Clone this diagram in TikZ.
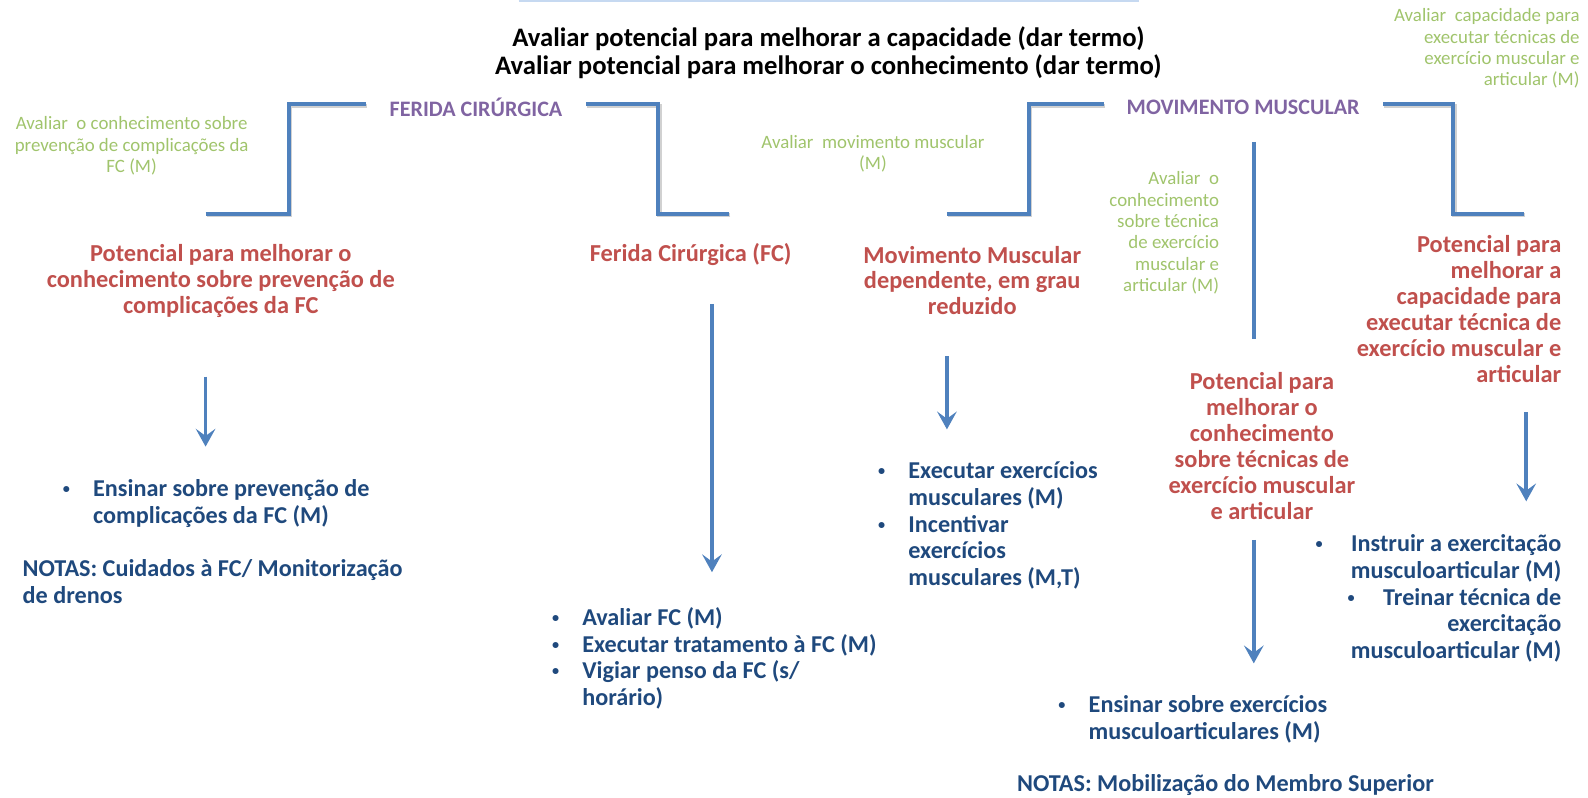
\documentclass[tikz,border=0pt]{standalone}
\usepackage{fontspec}
\setmainfont{Carlito}
\usetikzlibrary{arrows.meta}

\definecolor{linkblue}{HTML}{4F81BD}
\definecolor{topblue}{HTML}{C6D9F1}
\definecolor{headpurple}{HTML}{8064A2}
\definecolor{diagred}{HTML}{C0504D}
\definecolor{evalgreen}{RGB}{160,196,108}
\definecolor{actblue}{HTML}{1F497D}

\newlength{\bw}\setlength{\bw}{18pt}
\newcommand{\smallbul}{\raisebox{0.12em}{\fontsize{8}{8}\selectfont\textbullet}}
\newcommand{\itm}{\makebox[\bw][l]{\hspace{1pt}\smallbul}}
\newcommand{\cnt}{\hspace*{\bw}}

\tikzset{
  toptitle/.style={inner sep=0pt, align=center, font=\fontsize{15}{16}\selectfont\bfseries},
  heading/.style={inner sep=0pt, text=headpurple, font=\fontsize{12.4}{14}\selectfont\bfseries},
  evalnote/.style={inner sep=0pt, text=evalgreen, font=\fontsize{10.6}{12}\selectfont},
  diagnosis/.style={inner sep=0pt, text=diagred, font=\fontsize{13.7}{14.6}\selectfont\bfseries},
  actions/.style={inner sep=0pt, text=actblue, align=left, font=\fontsize{13.6}{15}\selectfont\bfseries},
  bracket/.style={draw=linkblue, line width=2.4pt,
    preaction={draw=black!18, line width=2.4pt, transform canvas={shift={(0.6pt,-0.9pt)}}}},
  arr/.style={draw=linkblue, line width=2pt, -{Stealth[length=10pt,width=11pt,inset=4pt]}}
}

\begin{document}
\begin{tikzpicture}[x=0.02cm, y=-0.02cm]
\useasboundingbox (0,0) rectangle (1568,787);

% top rule and title
\coordinate (topl) at (512,1);
\coordinate (topr) at (1125,1);
\draw[topblue, line width=1.2pt] (topl) -- (topr);
\node[toptitle] (title) at (818,52) {Avaliar potencial para melhorar a capacidade (dar termo)\\Avaliar potencial para melhorar o conhecimento (dar termo)};

% focus headings
\node[heading, minimum width=4.32cm] (fc) at (470,106) {FERIDA CIRÚRGICA};
\node[heading, minimum width=5.5cm] (mm) at (1227.5,106) {MOVIMENTO MUSCULAR};

% brackets
\coordinate (fcbl) at (203,211);
\coordinate (fcbr) at (720,211);
\coordinate (mmbl) at (935,211);
\coordinate (mmbr) at (1505,211);
\draw[bracket] (fcbl) -- ++(82,0) |- ([yshift=1.7pt]fc.west);
\draw[bracket] (fcbr) -- ++(-70,0) |- ([yshift=1.7pt]fc.east);
\draw[bracket] (mmbl) -- ++(81,0) |- ([yshift=1.7pt]mm.west);
\draw[bracket] (mmbr) -- ++(-70,0) |- ([yshift=1.7pt]mm.east);

% evaluations
\node[evalnote, align=center] (evfc) at (130,144) {Avaliar\ \ o conhecimento sobre\\prevenção de complicações da\\FC (M)};
\node[evalnote, align=center] (evmm) at (862,152) {Avaliar\ \ movimento muscular\\(M)};
\node[evalnote, align=right, anchor=east] (evtec) at (1204,230) {Avaliar\ \ o\\conhecimento\\sobre técnica\\de exercício\\muscular e\\articular (M)};
\node[evalnote, align=right, anchor=east] (evcap) at (1560,48) {Avaliar\ \ capacidade para\\executar técnicas de\\exercício muscular e\\articular (M)};

% diagnoses
\node[diagnosis, align=center] (pfc) at (218,277) {Potencial para melhorar o\\conhecimento sobre prevenção de\\complicações da FC};
\node[diagnosis] (ferida) at (682,251) {Ferida Cirúrgica (FC)};
\node[diagnosis, align=center] (mmd) at (960,277) {Movimento Muscular\\dependente, em grau\\reduzido};
\node[diagnosis, align=center] (pcon) at (1246,440) {Potencial para\\melhorar o\\conhecimento\\sobre técnicas de\\exercício muscular\\e articular};
\node[diagnosis, align=right, anchor=east] (pcap) at (1542,305) {Potencial para\\melhorar a\\capacidade para\\executar técnica de\\exercício muscular e\\articular};

% interventions
\node[actions, anchor=west] (ens) at (60,497) {\itm Ensinar sobre prevenção de\\\cnt complicações da FC (M)};
\node[actions, anchor=west] (nfc) at (22,574) {NOTAS: Cuidados à FC/ Monitorização\\de drenos};
\node[actions, anchor=west] (fcl) at (543,650) {\itm Avaliar FC (M)\\\itm Executar tratamento à FC (M)\\\itm Vigiar penso da FC (s/\\\cnt horário)};
\node[actions, anchor=west] (mml) at (865,519) {\itm Executar exercícios\\\cnt musculares (M)\\\itm Incentivar\\\cnt exercícios\\\cnt musculares (M,T)};
\node[actions, anchor=west] (mmc) at (1043,710) {\itm Ensinar sobre exercícios\\\cnt musculoarticulares (M)};
\node[actions] (nmm) at (1210,775) {NOTAS: Mobilização do Membro Superior};
\node[actions, align=right, anchor=east] (pcl) at (1542,591) {\smallbul\hspace{16pt}Instruir a exercitação\\musculoarticular (M)\\\smallbul\hspace{16pt}Treinar técnica de\\exercitação\\musculoarticular (M)};

% arrows
\coordinate (a1s) at (203,372);  \coordinate (a1e) at (203,441);
\coordinate (a2s) at (703,300);  \coordinate (a2e) at (703,565);
\coordinate (a3s) at (935,352);  \coordinate (a3e) at (935,424);
\coordinate (a4s) at (1238,533); \coordinate (a4e) at (1238,655);
\coordinate (a5s) at (1507,407); \coordinate (a5e) at (1507,495);
\coordinate (l1s) at (1238,140); \coordinate (l1e) at (1238,335);
\foreach \n in {a1,a2,a3,a4,a5}
  \draw[arr] (\n s) -- (\n e);
\draw[linkblue, line width=2pt] (l1s) -- (l1e);
\end{tikzpicture}
\end{document}
